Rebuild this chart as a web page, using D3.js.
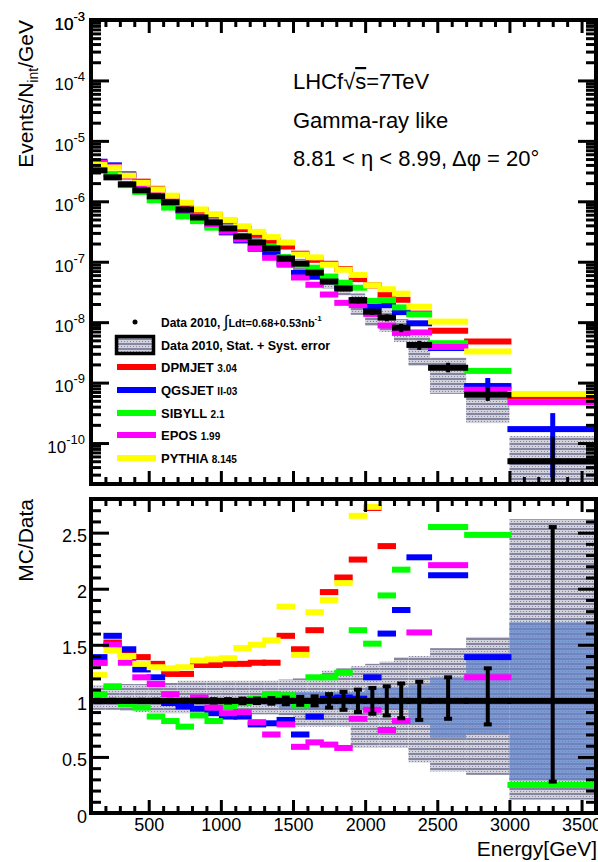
<!DOCTYPE html>
<html>
<head>
<meta charset="utf-8">
<script src="https://cdn.jsdelivr.net/npm/d3@7"></script>
<style>
  body { margin: 0; background: #fff; }
  svg { display: block; font-family: Arial, "Liberation Sans", Helvetica, sans-serif; }
</style>
</head>
<body>
<div id="chart"></div>
<script>
// energy bin edges [GeV]
const edges = [100, 200, 300, 400, 500, 600, 700, 800, 900, 1000, 1100, 1200, 1300, 1400, 1500,
  1600, 1700, 1800, 1900, 2000, 2100, 2200, 2300, 2450, 2700, 3000, 3600];

// data 2010, Events/N_int/GeV
const dataVal = [3.25e-6, 2.49e-6, 1.91e-6, 1.52e-6, 1.21e-6, 9.6e-7, 7.3e-7, 5.4e-7, 4.47e-7, 3.56e-7,
  2.62e-7, 2.08e-7, 1.66e-7, 1.13e-7, 9.3e-8, 6.6e-8, 4.7e-8, 3.6e-8, 2.28e-8, 1.49e-8,
  1.19e-8, 8.1e-9, 4.2e-9, 1.76e-9, 6.3e-10, 5.0e-11];
// relative statistical errors of data
const errUp = [0.01, 0.01, 0.01, 0.01, 0.01, 0.01, 0.01, 0.01, 0.015, 0.015, 0.02, 0.02, 0.025,
  0.03, 0.035, 0.04, 0.06, 0.08, 0.10, 0.115, 0.13, 0.155, 0.17, 0.21, 0.29, 1.55];
const errDown = [0.01, 0.01, 0.01, 0.01, 0.01, 0.01, 0.01, 0.01, 0.015, 0.015, 0.02, 0.02, 0.025,
  0.03, 0.035, 0.04, 0.06, 0.08, 0.10, 0.115, 0.13, 0.155, 0.17, 0.16, 0.21, 0.72];

// stat + syst error band (in units of data)
const bandHi = [1.14, 1.14, 1.15, 1.15, 1.16, 1.16, 1.18, 1.18, 1.18, 1.18, 1.18, 1.18, 1.18,
  1.19, 1.20, 1.22, 1.27, 1.29, 1.31, 1.33, 1.35, 1.39, 1.40, 1.47, 1.57, 2.62];
const bandLo = [0.92, 0.92, 0.91, 0.90, 0.89, 0.89, 0.89, 0.89, 0.89, 0.88, 0.88, 0.88, 0.88,
  0.87, 0.77, 0.77, 0.77, 0.77, 0.58, 0.58, 0.58, 0.58, 0.45, 0.37, 0.34, 0.12];
// inner band (blue)
const innerHi = [1, 1, 1, 1, 1, 1, 1, 1, 1, 1, 1, 1, 1.04, 1.08, 1.08, 1.08, 1.08, 1.08, 1.08,
  1.12, 1.12, 1.12, 1.14, 1.21, 1.41, 1.70];
const innerLo = [1, 1, 1, 1, 1, 1, 1, 1, 1, 1, 1, 1, 0.96, 0.93, 0.93, 0.93, 0.93, 0.93, 0.93,
  0.92, 0.92, 0.92, 0.80, 0.67, 0.71, 0.29];

// MC / Data
const ratioDPMJET = [1.34, 1.52, 1.41, 1.39, 1.33, 1.24, 1.24, 1.32, 1.32, 1.33, 1.33, 1.34, 1.34,
  1.58, 1.46, 1.63, 1.97, 2.10, 2.26, 2.72, 2.38, 2.9, 3.3, 4.1, 7.6, 12];
const ratioQGSJET = [1.39, 1.58, 1.46, 1.28, 1.21, 0.98, 0.95, 0.93, 0.89, 0.86, 0.86, 0.79, 0.80,
  0.83, 0.70, 0.86, 1.02, 1.03, 1.02, 1.21, 1.60, 1.81, 2.28, 2.12, 1.39, 3.4];
const ratioSIBYLL = [1.06, 1.13, 0.97, 0.94, 0.86, 0.82, 0.77, 0.87, 0.82, 0.95, 0.98, 1.02, 1.06,
  1.05, 0.96, 1.21, 1.21, 1.25, 1.63, 1.51, 1.94, 2.17, 3.2, 2.55, 2.48, 0.25];
const ratioEPOS = [1.34, 1.50, 1.34, 1.21, 1.15, 1.06, 1.00, 1.03, 0.94, 0.89, 0.90, 0.81, 0.70,
  0.79, 0.59, 0.63, 0.61, 0.58, 0.84, 0.92, 0.74, 0.82, 1.61, 2.21, 1.21, 9.5];
const ratioPYTHIA = [1.23, 1.45, 1.40, 1.33, 1.30, 1.29, 1.30, 1.36, 1.37, 1.38, 1.47, 1.50, 1.54,
  1.84, 1.41, 1.79, 1.90, 2.05, 2.65, 2.73, 2.95, 3.66, 4.3, 5.8, 5.2, 13];
// relative MC stat error of QGSJET (visible only in the last bins)
const qgsErr = [0, 0, 0, 0, 0, 0, 0, 0, 0, 0, 0, 0, 0, 0, 0, 0, 0, 0, 0, 0, 0, 0, 0, 0, 0.36, 0.84];

const modelNames = ["DPMJET", "QGSJET", "SIBYLL", "EPOS", "PYTHIA"];
const modelVersions = ["3.04", "II-03", "2.1", "1.99", "8.145"];
const modelColors = ["#ff0000", "#0000ff", "#00ff00", "#ff00ff", "#ffff00"];
const xTicks = [500, 1000, 1500, 2000, 2500, 3000, 3500];
const ratioTicks = [0, 0.5, 1, 1.5, 2, 2.5];

const series = [ratioDPMJET, ratioQGSJET, ratioSIBYLL, ratioEPOS, ratioPYTHIA].map((r, k) => ({
  name: modelNames[k], version: modelVersions[k], color: modelColors[k], ratio: r
}));
const bins = d3.range(dataVal.length).map(i => ({
  i: i, lo: edges[i], hi: edges[i + 1], mid: (edges[i] + edges[i + 1]) / 2, v: dataVal[i]
}));

const W = 598, H = 862;
const svg = d3.select("#chart").append("svg").attr("width", W).attr("height", H);
const defs = svg.append("defs");

function hatch(id, bg, line) {
  let p = defs.append("pattern").attr("id", id)
    .attr("patternUnits", "userSpaceOnUse").attr("width", 6).attr("height", 5);
  p.append("rect").attr("width", 6).attr("height", 5).attr("fill", bg);
  p.append("rect").attr("y", 3).attr("width", 6).attr("height", 2).attr("fill", line);
  p.append("rect").attr("x", 1).attr("y", 1).attr("width", 1).attr("height", 1).attr("fill", line);
  p.append("rect").attr("x", 4).attr("y", 1).attr("width", 1).attr("height", 1).attr("fill", line);
}
hatch("hatchGray", "#d2d2dc", "#85859f");
hatch("hatchBlue", "#7c9ad3", "#6f84bd");

const L = 91, R = 596;
const topY0 = 20, topY1 = 484, ratY0 = 499, ratY1 = 813;

const x = d3.scaleLinear().domain([100, 3600]).range([L, R]);
const yTop = d3.scaleLog().domain([2.1e-11, 1e-3]).range([topY1, topY0]);
const yRat = d3.scaleLinear().domain([0, 2.8]).range([ratY1, ratY0]);

defs.append("clipPath").attr("id", "clipTop").append("rect")
  .attr("x", L).attr("y", topY0).attr("width", R - L).attr("height", topY1 - topY0);
defs.append("clipPath").attr("id", "clipRat").append("rect")
  .attr("x", L).attr("y", ratY0).attr("width", R - L).attr("height", ratY1 - ratY0);

const ext = 2, barH = 6;

// ---------------- top panel ----------------
const spec = svg.append("g").attr("clip-path", "url(#clipTop)");

spec.selectAll(".band").data(bins).enter().append("rect")
  .attr("x", d => x(d.lo)).attr("width", d => x(d.hi) - x(d.lo))
  .attr("y", d => yTop(d.v * bandHi[d.i]))
  .attr("height", d => yTop(d.v * bandLo[d.i]) - yTop(d.v * bandHi[d.i]))
  .attr("fill", "url(#hatchGray)");

series.forEach(function (s) {
  spec.selectAll(null).data(bins).enter().append("rect")
    .attr("x", d => x(d.lo) - ext).attr("width", d => x(d.hi) - x(d.lo) + 2 * ext)
    .attr("y", d => yTop(d.v * s.ratio[d.i]) - barH / 2).attr("height", barH)
    .attr("fill", s.color);
});

// QGSJET MC error bars
spec.selectAll(null).data(bins.filter(d => qgsErr[d.i] > 0)).enter().append("line")
  .attr("x1", d => x(d.mid)).attr("x2", d => x(d.mid))
  .attr("y1", d => yTop(d.v * ratioQGSJET[d.i] * (1 + qgsErr[d.i])))
  .attr("y2", d => yTop(d.v * ratioQGSJET[d.i] * (1 - qgsErr[d.i])))
  .attr("stroke", "#0000ff").attr("stroke-width", 5);

// data
spec.selectAll(".dat").data(bins).enter().append("rect")
  .attr("x", d => x(d.lo) - ext).attr("width", d => x(d.hi) - x(d.lo) + 2 * ext)
  .attr("y", d => yTop(d.v) - barH / 2).attr("height", barH)
  .attr("fill", "#000");
spec.selectAll(".err").data(bins).enter().append("line")
  .attr("x1", d => x(d.mid)).attr("x2", d => x(d.mid))
  .attr("y1", d => yTop(d.v * (1 + errUp[d.i])))
  .attr("y2", d => yTop(d.v * (1 - errDown[d.i])))
  .attr("stroke", "#000").attr("stroke-width", 4);

// ---------------- ratio panel ----------------
const rat = svg.append("g").attr("clip-path", "url(#clipRat)");

rat.selectAll(".bandA").data(bins).enter().append("rect")
  .attr("x", d => x(d.lo)).attr("width", d => x(d.hi) - x(d.lo))
  .attr("y", d => yRat(bandHi[d.i])).attr("height", d => yRat(bandLo[d.i]) - yRat(bandHi[d.i]))
  .attr("fill", "url(#hatchGray)");
rat.selectAll(".bandB").data(bins).enter().append("rect")
  .attr("x", d => x(d.lo)).attr("width", d => x(d.hi) - x(d.lo))
  .attr("y", d => yRat(innerHi[d.i])).attr("height", d => yRat(innerLo[d.i]) - yRat(innerHi[d.i]))
  .attr("fill", "url(#hatchBlue)");

series.forEach(function (s) {
  rat.selectAll(null).data(bins).enter().append("rect")
    .attr("x", d => x(d.lo) - ext).attr("width", d => x(d.hi) - x(d.lo) + 2 * ext)
    .attr("y", d => yRat(s.ratio[d.i]) - barH / 2).attr("height", barH)
    .attr("fill", s.color);
});

rat.selectAll(".dat").data(bins).enter().append("rect")
  .attr("x", d => x(d.lo) - ext).attr("width", d => x(d.hi) - x(d.lo) + 2 * ext)
  .attr("y", yRat(1) - barH / 2).attr("height", barH).attr("fill", "#000");
const eb = rat.selectAll(".err").data(bins).enter().append("g");
eb.append("line")
  .attr("x1", d => x(d.mid)).attr("x2", d => x(d.mid))
  .attr("y1", d => yRat(1 + errUp[d.i])).attr("y2", d => yRat(1 - errDown[d.i]))
  .attr("stroke", "#000").attr("stroke-width", 4);
eb.append("line")
  .attr("x1", d => x(d.mid) - 4).attr("x2", d => x(d.mid) + 4)
  .attr("y1", d => yRat(1 + errUp[d.i])).attr("y2", d => yRat(1 + errUp[d.i]))
  .attr("stroke", "#000").attr("stroke-width", 4);
eb.append("line")
  .attr("x1", d => x(d.mid) - 4).attr("x2", d => x(d.mid) + 4)
  .attr("y1", d => yRat(1 - errDown[d.i])).attr("y2", d => yRat(1 - errDown[d.i]))
  .attr("stroke", "#000").attr("stroke-width", 4);

// ---------------- axes ----------------
function styleAxis(g, w) {
  g.select(".domain").remove();
  g.selectAll(".tick line").attr("stroke", "#000").attr("stroke-width", w);
  g.attr("font-family", null);
}

const logMajor = d3.range(-10, -2).map(e => Math.pow(10, e));
const logMinor = [];
d3.range(-11, -3).forEach(e => d3.range(2, 10).forEach(m => {
  let v = m * Math.pow(10, e);
  if (v > 2.1e-11 && v < 1e-3) logMinor.push(v);
}));
const xMinor = d3.range(200, 3600, 100).filter(v => v % 500 !== 0);
const ratMinor = d3.range(1, 28).map(v => v / 10).filter(v => Math.round(v * 10) % 5 !== 0);

function frameAxes(yScale, yMajor, yMinor, y0, y1) {
  let g = svg.append("g");
  g.append("g").attr("transform", `translate(${L},0)`)
    .call(d3.axisLeft(yScale).tickValues(yMinor).tickSize(-10).tickFormat(""))
    .call(a => styleAxis(a, 3));
  g.append("g").attr("transform", `translate(${R},0)`)
    .call(d3.axisRight(yScale).tickValues(yMinor).tickSize(-10).tickFormat(""))
    .call(a => styleAxis(a, 3));
  g.append("g").attr("transform", `translate(${R},0)`)
    .call(d3.axisRight(yScale).tickValues(yMajor).tickSize(-18).tickFormat(""))
    .call(a => styleAxis(a, 3));
  g.append("g").attr("transform", `translate(0,${y0})`)
    .call(d3.axisTop(x).tickValues(xMinor).tickSize(-7).tickFormat(""))
    .call(a => styleAxis(a, 3));
  g.append("g").attr("transform", `translate(0,${y0})`)
    .call(d3.axisTop(x).tickValues(xTicks).tickSize(-13).tickFormat(""))
    .call(a => styleAxis(a, 3));
  g.append("g").attr("transform", `translate(0,${y1})`)
    .call(d3.axisBottom(x).tickValues(xMinor).tickSize(-7).tickFormat(""))
    .call(a => styleAxis(a, 3));
  g.append("rect").attr("x", L).attr("y", y0).attr("width", R - L).attr("height", y1 - y0)
    .attr("fill", "none").attr("stroke", "#000").attr("stroke-width", 4);
  return g;
}

const gTop = frameAxes(yTop, logMajor.concat([1e-3]), logMinor, topY0, topY1);
gTop.append("g").attr("transform", `translate(0,${topY1})`)
  .call(d3.axisBottom(x).tickValues(xTicks).tickSize(-13).tickFormat(""))
  .call(a => styleAxis(a, 3));
gTop.append("g").attr("transform", `translate(${L},0)`)
  .call(d3.axisLeft(yTop).tickValues(logMajor.concat([1e-3])).tickSize(-18).tickPadding(6).tickFormat(""))
  .call(a => styleAxis(a, 3))
  .call(a => a.selectAll(".tick text").each(function (d) {
    let t = d3.select(this).attr("font-size", 17).attr("dy", "0.55em").attr("fill", "#000");
    t.append("tspan").text("10");
    t.append("tspan").attr("dy", -9).attr("font-size", 13).text(String(Math.round(Math.log10(d))));
  }));

const gRat = frameAxes(yRat, ratioTicks, ratMinor, ratY0, ratY1);
gRat.append("g").attr("transform", `translate(0,${ratY1})`)
  .call(d3.axisBottom(x).tickValues(xTicks).tickSize(-13).tickPadding(5).tickFormat(d3.format("d")))
  .call(a => styleAxis(a, 3))
  .call(a => a.selectAll(".tick text").attr("font-size", 18).attr("fill", "#000"));
gRat.append("g").attr("transform", `translate(${L},0)`)
  .call(d3.axisLeft(yRat).tickValues(ratioTicks).tickSize(-18).tickPadding(4).tickFormat(d => String(d)))
  .call(a => styleAxis(a, 3))
  .call(a => a.selectAll(".tick text").attr("font-size", 18).attr("dy", "0.5em").attr("fill", "#000"));

// axis titles
const yt = svg.append("text").attr("transform", `translate(33,${topY0}) rotate(-90)`)
  .attr("text-anchor", "end").attr("font-size", 21);
yt.append("tspan").text("Events/N");
yt.append("tspan").attr("dy", 5).attr("font-size", 14).text("int");
yt.append("tspan").attr("dy", -5).text("/GeV");
svg.append("text").attr("transform", `translate(33,${ratY0}) rotate(-90)`)
  .attr("text-anchor", "end").attr("font-size", 21).text("MC/Data");
svg.append("text").attr("x", R + 1).attr("y", 856).attr("text-anchor", "end")
  .attr("font-size", 21).text("Energy[GeV]");

// annotations
const ann = svg.append("g").attr("font-size", 22).attr("fill", "#000");
const a1 = ann.append("text").attr("x", 293).attr("y", 89);
a1.append("tspan").text("LHCf");
a1.append("tspan").text("\u221A");
a1.append("tspan").attr("text-decoration", "overline").text("s");
a1.append("tspan").text("=7TeV");
ann.append("text").attr("x", 293).attr("y", 128).text("Gamma-ray like");
ann.append("text").attr("x", 293).attr("y", 166).text("8.81 < \u03B7 < 8.99, \u0394\u03C6 = 20\u00B0");

// legend
const lg = svg.append("g").attr("font-family", "'Liberation Sans Narrow', Arial, sans-serif")
  .attr("font-weight", "bold").attr("fill", "#000");
lg.append("circle").attr("cx", 135).attr("cy", 322).attr("r", 2.5).attr("fill", "#000");
const l1 = lg.append("text").attr("x", 161).attr("y", 327).attr("font-size", 12);
l1.append("tspan").text("Data 2010, ");
l1.append("tspan").attr("font-size", 17).attr("font-weight", "normal").text("\u222B");
l1.append("tspan").attr("font-size", 11).text("Ldt=0.68+0.53nb");
l1.append("tspan").attr("font-size", 8).attr("dy", -6).text("-1");
lg.append("rect").attr("x", 116.5).attr("y", 336.5).attr("width", 37).attr("height", 17)
  .attr("fill", "url(#hatchGray)").attr("stroke", "#000").attr("stroke-width", 3.5);
lg.append("text").attr("x", 161).attr("y", 350).attr("font-size", 12.5)
  .text("Data 2010, Stat. + Syst. error");
const legY = [367, 390, 413, 435, 458];
series.forEach(function (s, k) {
  lg.append("rect").attr("x", 117).attr("y", legY[k] - 3).attr("width", 39).attr("height", 6)
    .attr("fill", s.color);
  let t = lg.append("text").attr("x", 161).attr("y", legY[k] + 5).attr("font-size", 13);
  t.append("tspan").text(s.name + " ");
  t.append("tspan").attr("font-size", 10).text(s.version);
});
</script>
</body>
</html>
